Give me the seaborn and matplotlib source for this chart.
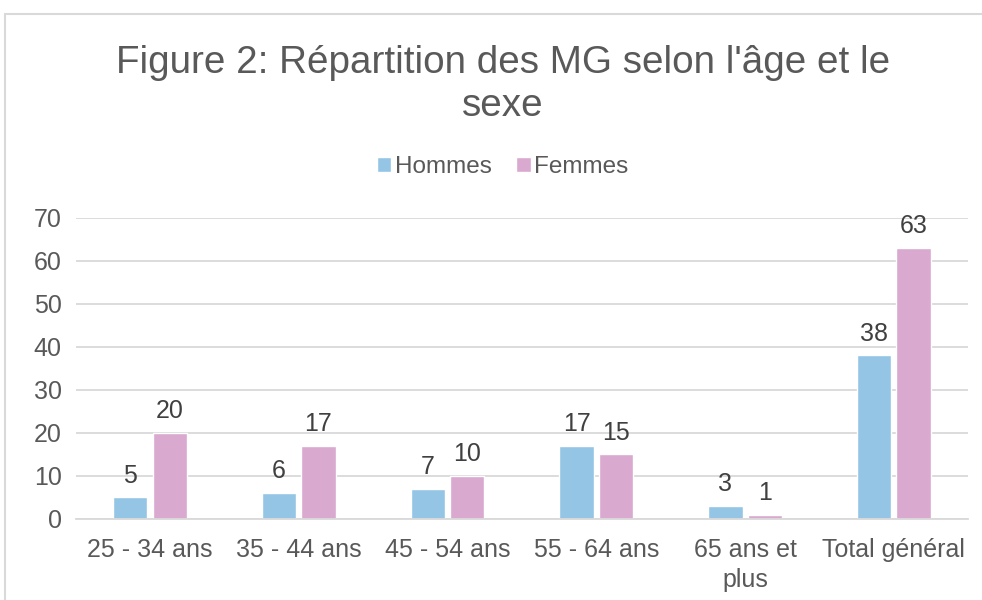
import numpy as np
import pandas as pd
import seaborn as sns
import matplotlib.pyplot as plt
from matplotlib.lines import Line2D

# data
categories = ["25 - 34 ans", "35 - 44 ans", "45 - 54 ans", "55 - 64 ans",
              "65 ans et\nplus", "Total général"]
hommes = [5, 6, 7, 17, 3, 38]
femmes = [20, 17, 10, 15, 1, 63]
series = ["Hommes", "Femmes"]
colors = ["#95C5E5", "#D9A9CF"]

df = pd.DataFrame({
    "cat": categories * 2,
    "val": hommes + femmes,
    "sexe": [series[0]] * len(categories) + [series[1]] * len(categories),
})

sns.set_theme(style="white")
plt.rcParams['font.family'] = ['Liberation Sans', 'DejaVu Sans']
text_col = "#595959"

fig = plt.figure(figsize=(9.82, 6.0), dpi=100)
ax = fig.add_axes([0.077, 0.135, 0.909, 0.502])

sns.barplot(data=df, x="cat", y="val", hue="sexe", palette=colors,
            hue_order=series, order=categories, width=0.53, gap=0.13,
            saturation=1, ax=ax, legend=True)

for cont in ax.containers:
    ax.bar_label(cont, padding=7, fontsize=18, color="#404040")

ax.set_ylim(0, 70)
ax.set_yticks(range(0, 71, 10))
ax.set_xlim(-0.5, len(categories) - 0.5)
ax.yaxis.grid(True, color="#D9D9D9", lw=1.3)
ax.set_axisbelow(True)
for s in ["top", "right", "left"]:
    ax.spines[s].set_visible(False)
ax.spines["bottom"].set_color("#D9D9D9")
ax.spines["bottom"].set_linewidth(1.3)
ax.set_xlabel("")
ax.set_ylabel("")
ax.tick_params(axis="both", labelsize=18, colors=text_col, length=0, pad=10)
ax.tick_params(axis="x", pad=14)

# minor ticks between categories
ax.set_xticks(np.arange(-0.5, len(categories)), minor=True)
ax.tick_params(axis="x", which="minor", length=7, color="#D9D9D9", width=1.3,
               direction="out")
for lab in ax.get_xticklabels():
    lab.set_linespacing(1.3)
    lab.set_verticalalignment("top")

fig.suptitle("Figure 2: Répartition des MG selon l'âge et le\nsexe",
             x=0.512, y=0.925, fontsize=27.8, color=text_col, linespacing=1.25)

handles, labels = ax.get_legend_handles_labels()
ax.legend_.remove()
fig.legend(handles, labels, loc="center", bbox_to_anchor=(0.512, 0.722),
           ncol=2, frameon=False, fontsize=17.5, handlelength=0.6,
           handleheight=0.6, handletextpad=0.15, columnspacing=1.0,
           labelcolor=text_col)

# outer chart frame (top and left edges visible)
fig.add_artist(Line2D([5 / 982, 1.0], [1 - 14 / 600, 1 - 14 / 600],
                      transform=fig.transFigure, color="#D9D9D9", lw=1.5))
fig.add_artist(Line2D([5 / 982, 5 / 982], [0.0, 1 - 14 / 600],
                      transform=fig.transFigure, color="#D9D9D9", lw=1.5))

fig.savefig("out.png", dpi=100)
